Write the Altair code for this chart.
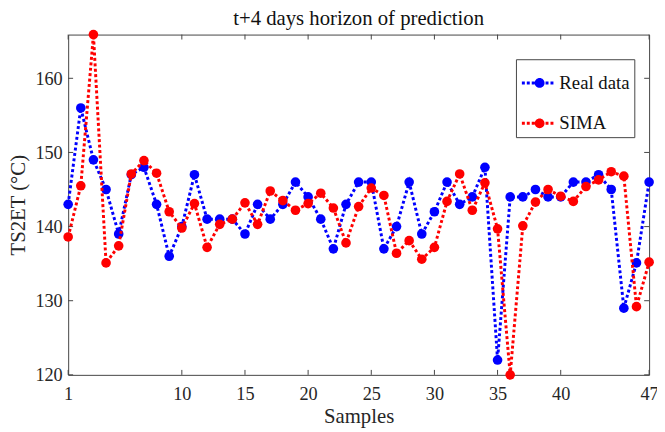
import altair as alt
import pandas as pd

samples = list(range(1, 48))
real_data = [143, 156, 149, 145, 139, 147, 148, 143, 136, 140,
             147, 141, 141, 141, 139, 143, 141, 143, 146, 144,
             141, 137, 143, 146, 146, 137, 140, 146, 139, 142,
             146, 143, 144, 148, 122, 144, 144, 145, 144, 144,
             146, 146, 147, 145, 129, 135.1, 146]
sima = [138.6, 145.5, 165.9, 135.1, 137.4, 147.1, 148.9, 147.2, 142, 139.8,
        143.1, 137.2, 140.3, 141, 143.2, 140.3, 144.8, 143.5, 142.2, 143.1,
        144.5, 142.5, 137.8, 142.7, 145.2, 144.2, 136.4, 138.1, 135.6, 137.2,
        143.4, 147.1, 142.2, 145.9, 139.7, 120, 140.1, 143.3, 145, 144.1,
        143.4, 145.4, 146.3, 147.4, 146.8, 129.2, 135.2]
series_names = ["Real data", "SIMA"]
series_colors = ["#0000FF", "#FF0000"]
x_ticks = [1, 10, 15, 20, 25, 30, 35, 40, 47]
y_ticks = [120, 130, 140, 150, 160]

df = pd.DataFrame({
    "Samples": samples * 2,
    "value": real_data + sima,
    "series": ["Real data"] * len(samples) + ["SIMA"] * len(samples),
})
xt = pd.DataFrame({"t": x_ticks})
yt = pd.DataFrame({"t": y_ticks})

W, H = 589, 345
FONT = "Liberation Serif"
AX = "#444444"

xscale = alt.Scale(domain=[1, 47], nice=False, zero=False)
yscale = alt.Scale(domain=[120, 165.9], nice=False, zero=False)
cscale = alt.Scale(domain=series_names, range=series_colors)

sym = ("M-0.9,-0.075h0.15v0.15h-0.15z M-0.65,-0.075h0.15v0.15h-0.15z "
       "M-0.4,-0.075h0.15v0.15h-0.15z "
       "M-0.25,0a0.25,0.25 0 1,0 0.5,0a0.25,0.25 0 1,0 -0.5,0z "
       "M0.3,-0.075h0.15v0.15h-0.15z M0.55,-0.075h0.15v0.15h-0.15z")

x_enc = alt.X("Samples:Q", scale=xscale,
              axis=alt.Axis(values=x_ticks, title="Samples", tickSize=0, grid=False,
                            domain=False, labelPadding=10, titlePadding=3,
                            labelFontSize=18.5, titleFontSize=21, labelFlush=False,
                            labelFont=FONT, titleFont=FONT))
y_enc = alt.Y("value:Q", scale=yscale,
              axis=alt.Axis(values=y_ticks, title="TS2ET (°C)", tickSize=0, grid=False,
                            domain=False, labelPadding=6, titlePadding=7,
                            labelFontSize=18.5, titleFontSize=21,
                            labelFont=FONT, titleFont=FONT))

layers = []
for name, col in zip(series_names, series_colors):
    sub = df[df.series == name]
    line = alt.Chart(sub).mark_line(strokeDash=[3, 2.5], strokeWidth=3, color=col).encode(
        x=x_enc, y=y_enc)
    pts = alt.Chart(sub).mark_point(filled=True, size=95, opacity=1).encode(
        x=x_enc, y=y_enc,
        color=alt.Color("series:N", scale=cscale, legend=alt.Legend(title=None)))
    layers += [line, pts]

tick_top = alt.Chart(xt).mark_rule(color=AX, strokeWidth=1).encode(
    x=alt.X("t:Q", scale=xscale), y=alt.value(0), y2=alt.value(5))
tick_bot = alt.Chart(xt).mark_rule(color=AX, strokeWidth=1).encode(
    x=alt.X("t:Q", scale=xscale), y=alt.value(H), y2=alt.value(H - 5))
tick_left = alt.Chart(yt).mark_rule(color=AX, strokeWidth=1).encode(
    y=alt.Y("t:Q", scale=yscale), x=alt.value(0), x2=alt.value(5))
tick_right = alt.Chart(yt).mark_rule(color=AX, strokeWidth=1).encode(
    y=alt.Y("t:Q", scale=yscale), x=alt.value(W), x2=alt.value(W - 5))

chart = alt.layer(tick_top, tick_bot, tick_left, tick_right, *layers).resolve_scale(
    color="shared"
).properties(
    width=W, height=H,
    title=alt.TitleParams("t+4 days horizon of prediction", font=FONT, fontSize=21,
                          fontWeight="normal", color="#111111", offset=0, anchor="middle"),
    autosize=alt.AutoSizeParams(type="none"),
    padding={"left": 61, "top": 24, "right": 8, "bottom": 55},
).configure(
    font=FONT
).configure_view(
    stroke=AX, strokeWidth=1
).configure_axis(
    labelFont=FONT, titleFont=FONT, labelColor="#262626", titleColor="#262626",
    titleFontWeight="normal"
).configure_legend(
    orient="none", legendX=454, legendY=25, padding=4, strokeColor=AX, fillColor="white",
    labelFont=FONT, labelFontSize=19, labelColor="#111111", rowPadding=11, labelOffset=0,
    symbolType=sym, symbolSize=1600, symbolStrokeWidth=0, cornerRadius=0
)

chart.save("out.html", embed_options={"renderer": "svg", "actions": False})
